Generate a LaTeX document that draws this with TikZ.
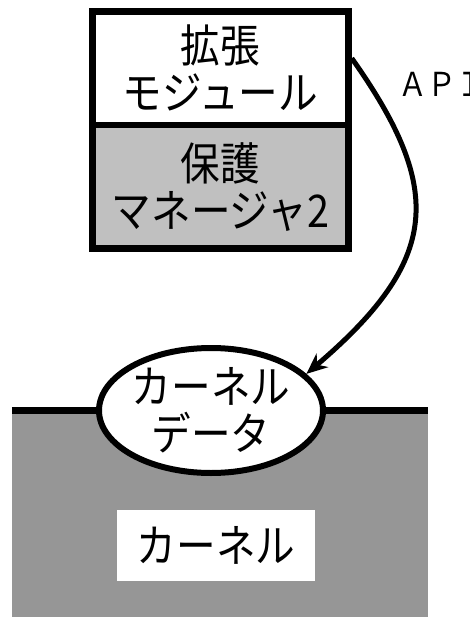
\documentclass[tikz,border=0pt]{standalone}
\usepackage{fontspec}
\newfontfamily\jp[FakeStretch=0.88]{Noto Sans CJK JP}
\usetikzlibrary{shapes.geometric,arrows.meta}
\definecolor{lightbox}{HTML}{C0C0C0}
\definecolor{kerngray}{HTML}{969696}
\tikzset{
  jptext/.style={font=\jp\fontsize{45}{47}\selectfont, align=center},
  box/.style={draw=black, line width=6.5pt, rectangle, minimum width=256pt, inner sep=0pt, jptext},
}
\begin{document}
\begin{tikzpicture}[x=1pt,y=-1pt]
\useasboundingbox (0,0) rectangle (470,617);
\clip (0,0) rectangle (470,617);
% kernel area
\node[fill=kerngray, rectangle, minimum width=416pt, minimum height=210pt, inner sep=0pt] (kern) at (220,516) {};
\draw[line width=7pt] (kern.north west) -- (kern.north east);
\node[fill=white, rectangle, minimum width=198pt, minimum height=71pt, inner sep=0pt, jptext] (kname) at (216,545.5) {カーネル};
% kernel data
\node[ellipse, draw=black, fill=white, line width=6pt, minimum width=207pt, minimum height=125pt, inner sep=0pt, jptext] (kd) at (211,410.5) {カーネル\\データ};
% top boxes
\node[box, fill=white, minimum height=113.5pt] (ext) at (220.5,68.25) {拡張\\モジュール};
\node[box, fill=lightbox, minimum height=123.5pt] (prot) at (220.5,186.75) {保護\\マネージャ2};
% API label
\node[anchor=base west, inner sep=0pt, font=\jp\fontsize{33}{33}\selectfont] (api) at (398,97) {ＡＰＩ};
% connector
\draw[line width=5pt, -{Stealth[length=21pt,width=18pt]}] ([yshift=10pt]ext.east) .. controls (445,190) and (440,260) .. (kd.21);
\end{tikzpicture}
\end{document}
